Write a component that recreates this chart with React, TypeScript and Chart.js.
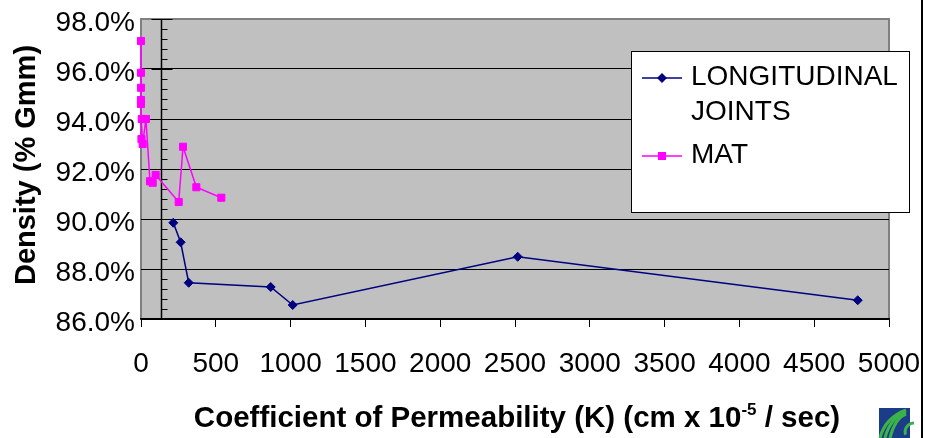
import React, { useEffect, useRef } from 'react';
import { Chart, registerables } from 'chart.js';

Chart.register(...registerables);

// ---- data ----
const SERIES_NAMES = ['LONGITUDINAL JOINTS', 'MAT'];
const JOINT_K = [216, 265, 319, 867, 1014, 2518, 4791];
const JOINT_DENSITY = [89.85, 89.07, 87.45, 87.28, 86.56, 88.49, 86.75];
const MAT_K = [0, 0, 0, 0, 0, 3, 5, 11, 33, 60, 78, 98, 252, 281, 370, 537];
const MAT_DENSITY = [97.12, 95.85, 95.25, 94.76, 94.6, 93.2, 94.0, 93.0, 94.0, 91.51, 91.45, 91.76, 90.68, 92.89, 91.27, 90.85];
const X_MIN = 0;
const X_MAX = 5000;
const X_STEP = 500;
const Y_MIN = 86;
const Y_MAX = 98;
const Y_STEP = 2;
const Y_MINOR_STEP = 0.4;
const AXIS_CROSS_K = 134;
const Y_TITLE = 'Density (% Gmm)';
const X_TITLE_MAIN = 'Coefficient of Permeability (K) (cm x 10';
const X_TITLE_SUP = '-5';
const X_TITLE_END = ' / sec)';

const FONT = '"Liberation Sans", Arial, Helvetica, sans-serif';
const NAVY = '#000080';
const MAGENTA = '#ff00ff';

function wrapWords(ctx: CanvasRenderingContext2D, text: string, maxW: number): string[] {
  const words = text.split(' ');
  const lines: string[] = [];
  let cur = '';
  for (const w of words) {
    const t = cur ? cur + ' ' + w : w;
    if (cur && ctx.measureText(t).width > maxW) {
      lines.push(cur);
      cur = w;
    } else cur = t;
  }
  if (cur) lines.push(cur);
  return lines;
}

const decor = {
  id: 'decor',
  beforeDraw(chart: any) {
    const { ctx, chartArea: a } = chart;
    ctx.save();
    ctx.fillStyle = '#c0c0c0';
    ctx.fillRect(a.left, a.top, a.right - a.left, a.bottom - a.top);
    ctx.strokeStyle = '#808080';
    ctx.lineWidth = 2;
    ctx.strokeRect(a.left, a.top, a.right - a.left, a.bottom - a.top);
    ctx.restore();
  },
  beforeDatasetsDraw(chart: any) {
    const { ctx } = chart;
    const xs = chart.scales.x;
    const ys = chart.scales.y;
    const x = Math.round(xs.getPixelForValue(AXIS_CROSS_K)) + 0.5;
    ctx.save();
    ctx.strokeStyle = '#000';
    ctx.lineWidth = 1.5;
    ctx.beginPath();
    ctx.moveTo(x, ys.top);
    ctx.lineTo(x, ys.bottom);
    ctx.stroke();
    ctx.lineWidth = 1;
    const n = Math.round((Y_MAX - Y_MIN) / Y_MINOR_STEP);
    const per = Math.round(Y_STEP / Y_MINOR_STEP);
    ctx.beginPath();
    for (let i = 0; i <= n; i++) {
      const v = Y_MIN + i * Y_MINOR_STEP;
      const p = Math.round(ys.getPixelForValue(v)) + 0.5;
      if (i % per === 0) {
        ctx.moveTo(x - 10, p);
        ctx.lineTo(x + 11, p);
      } else {
        ctx.moveTo(x, p);
        ctx.lineTo(x + 6, p);
      }
    }
    ctx.stroke();
    ctx.restore();
  },
  afterDraw(chart: any) {
    const { ctx, chartArea: a } = chart;
    ctx.save();
    // y title
    ctx.fillStyle = '#000';
    ctx.font = `bold 29px ${FONT}`;
    ctx.translate(27, 165);
    ctx.rotate(-Math.PI / 2);
    ctx.textAlign = 'center';
    ctx.textBaseline = 'middle';
    ctx.fillText(Y_TITLE, 0, 0);
    ctx.restore();

    // x title with superscript
    ctx.save();
    ctx.fillStyle = '#000';
    ctx.textBaseline = 'alphabetic';
    ctx.textAlign = 'left';
    const bigF = `bold 29.5px ${FONT}`;
    const supF = `bold 17px ${FONT}`;
    ctx.font = bigF;
    const w1 = ctx.measureText(X_TITLE_MAIN).width;
    const w3 = ctx.measureText(X_TITLE_END).width;
    ctx.font = supF;
    const w2 = ctx.measureText(X_TITLE_SUP).width;
    const total = w1 + w2 + w3;
    let tx = (a.left + a.right) / 2 + 2 - total / 2;
    const base = 427;
    ctx.font = bigF;
    ctx.fillText(X_TITLE_MAIN, tx, base);
    tx += w1;
    ctx.font = supF;
    ctx.fillText(X_TITLE_SUP, tx, base - 12);
    tx += w2;
    ctx.font = bigF;
    ctx.fillText(X_TITLE_END, tx, base);
    ctx.restore();

    // legend
    ctx.save();
    const L = 631.5, T = 51.5, R = 909.5, B = 212.5;
    ctx.fillStyle = '#fff';
    ctx.fillRect(L, T, R - L, B - T);
    ctx.strokeStyle = '#000';
    ctx.lineWidth = 1;
    ctx.strokeRect(L, T, R - L, B - T);
    ctx.font = `28px ${FONT}`;
    ctx.fillStyle = '#000';
    ctx.textBaseline = 'alphabetic';
    ctx.textAlign = 'left';
    const items = chart.data.datasets;
    let rowY = 78;
    items.forEach((ds: any) => {
      const lines = wrapWords(ctx, ds.label, 215);
      ctx.strokeStyle = ds.borderColor;
      ctx.lineWidth = 1.5;
      ctx.beginPath();
      ctx.moveTo(642, rowY);
      ctx.lineTo(682, rowY);
      ctx.stroke();
      ctx.fillStyle = ds.backgroundColor;
      ctx.beginPath();
      if (ds.pointStyle === 'rectRot') {
        ctx.moveTo(662 - 5, rowY);
        ctx.lineTo(662, rowY - 5);
        ctx.lineTo(662 + 5, rowY);
        ctx.lineTo(662, rowY + 5);
        ctx.closePath();
      } else {
        ctx.rect(658, rowY - 4, 8, 8);
      }
      ctx.fill();
      ctx.fillStyle = '#000';
      lines.forEach((ln, i) => ctx.fillText(ln, 691, rowY + 7 + i * 35));
      rowY += lines.length * 35 + 8;
    });
    ctx.restore();

    // logo
    ctx.save();
    ctx.fillStyle = '#1b3c86';
    ctx.fillRect(879, 408, 31, 30);
    ctx.strokeStyle = '#3cb24a';
    ctx.lineWidth = 3;
    for (let o = 0; o < 3; o++) {
      ctx.beginPath();
      ctx.moveTo(880 + o * 5, 438);
      ctx.quadraticCurveTo(885 + o * 5, 418, 906, 410 + o * 2);
      ctx.stroke();
    }
    ctx.beginPath();
    ctx.arc(914, 432, 9, Math.PI * 0.9, Math.PI * 1.5);
    ctx.stroke();
    ctx.restore();

    // right outer border line
    ctx.save();
    ctx.strokeStyle = '#000';
    ctx.lineWidth = 2;
    ctx.beginPath();
    ctx.moveTo(922, 0);
    ctx.lineTo(922, 438);
    ctx.stroke();
    ctx.restore();
  },
};

export default function App() {
  const ref = useRef<HTMLCanvasElement>(null);
  useEffect(() => {
    const chart = new Chart(ref.current as HTMLCanvasElement, {
      type: 'scatter',
      data: {
        datasets: [
          {
            label: SERIES_NAMES[0],
            data: JOINT_K.map((k, i) => ({ x: k, y: JOINT_DENSITY[i] })),
            borderColor: NAVY,
            backgroundColor: NAVY,
            borderWidth: 1.5,
            pointStyle: 'rectRot',
            pointRadius: 4.5,
            pointBorderWidth: 1,
            showLine: true,
            tension: 0,
            clip: false,
          },
          {
            label: SERIES_NAMES[1],
            data: MAT_K.map((k, i) => ({ x: k, y: MAT_DENSITY[i] })),
            borderColor: MAGENTA,
            backgroundColor: MAGENTA,
            borderWidth: 1.5,
            pointStyle: 'rect',
            pointRadius: 5,
            pointBorderWidth: 1,
            showLine: true,
            tension: 0,
            clip: false,
          },
        ] as any,
      },
      options: {
        animation: false,
        responsive: false,
        devicePixelRatio: 1,
        events: [],
        layout: { padding: { left: 0, top: 19, right: 36, bottom: 0 } },
        plugins: { legend: { display: false }, tooltip: { enabled: false } },
        scales: {
          x: {
            type: 'linear',
            min: X_MIN,
            max: X_MAX,
            position: 'bottom',
            ticks: {
              stepSize: X_STEP,
              callback: (v: any) => String(Math.round(Number(v))),
              font: { family: FONT, size: 28 },
              color: '#000',
              padding: 20,
              maxRotation: 0,
              autoSkip: false,
            },
            grid: { drawOnChartArea: false, drawTicks: true, tickLength: 8, color: '#000', lineWidth: 1 },
            border: { display: true, color: '#000', width: 1.5 },
            afterFit: (s: any) => {
              s.height = 119;
              s.paddingLeft = 0;
              s.paddingRight = 0;
            },
          },
          y: {
            type: 'linear',
            min: Y_MIN,
            max: Y_MAX,
            ticks: {
              stepSize: Y_STEP,
              callback: (v: any) => Number(v).toFixed(1) + '%',
              font: { family: FONT, size: 28 },
              color: '#000',
              padding: 6,
              labelOffset: 4,
            },
            grid: {
              drawTicks: false,
              color: (c: any) => (c.tick && c.tick.value === Y_MAX ? 'rgba(0,0,0,0)' : '#000'),
              lineWidth: 1,
            },
            border: { display: false },
            afterFit: (s: any) => {
              s.width = 141;
              s.paddingTop = 0;
              s.paddingBottom = 0;
            },
          },
        },
      } as any,
      plugins: [decor],
    });
    return () => chart.destroy();
  }, []);
  return (
    <div style={{ position: 'absolute', left: 0, top: 0, width: 925, height: 438, background: '#fff' }}>
      <canvas ref={ref} width={925} height={438} style={{ display: 'block', width: 925, height: 438 }} />
    </div>
  );
}
